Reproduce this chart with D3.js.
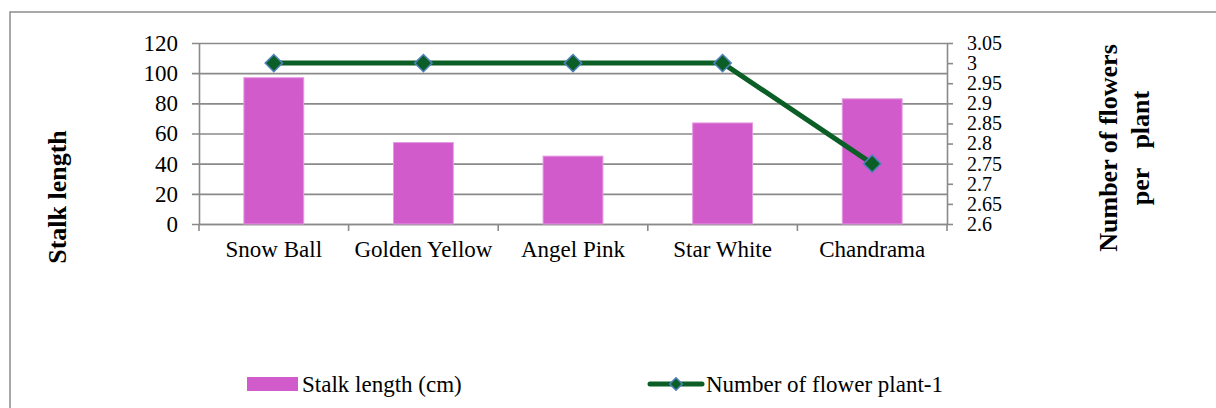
<!DOCTYPE html>
<html>
<head>
<meta charset="utf-8">
<script src="https://cdn.jsdelivr.net/npm/d3@7"></script>
<style>
  html, body { margin: 0; padding: 0; background: #fff; }
  svg { display: block; }
  svg text { font-family: "Liberation Serif", "Times New Roman", Times, "Nimbus Roman", "DejaVu Serif", serif !important; }
</style>
</head>
<body>
<svg id="chart" width="1216" height="408"></svg>
<script>
// Varieties and measured traits
const categories = ["Snow Ball", "Golden Yellow", "Angel Pink", "Star White", "Chandrama"];
const stalkLength = [97, 54, 45, 67, 83];
const flowersPerPlant = [3, 3, 3, 3, 2.75];
const leftTicks = [0, 20, 40, 60, 80, 100, 120];
const rightTicks = [2.6, 2.65, 2.7, 2.75, 2.8, 2.85, 2.9, 2.95, 3, 3.05];

const svg = d3.select("#chart");
const plot = { left: 199, right: 947, top: 43, bottom: 224 };
const gridColor = "#8a8a8a";
const barColor = "#d15bcb";
const lineColor = "#0b5f26";
const markerStroke = "#4f81bd";
const fs = 23;

// Outer chart frame
svg.append("rect")
  .attr("x", 10).attr("y", 12)
  .attr("width", 1230).attr("height", 420)
  .attr("fill", "none").attr("stroke", "#8c8c8c").attr("stroke-width", 1.5);

const x = d3.scaleBand().domain(categories).range([plot.left, plot.right]).paddingInner(0).paddingOuter(0);
const yL = d3.scaleLinear().domain([0, 120]).range([plot.bottom, plot.top]);
const yR = d3.scaleLinear().domain([2.6, 3.05]).range([plot.bottom, plot.top]);

// Left axis with gridlines across the plot
const leftAxis = d3.axisLeft(yL).tickValues(leftTicks).tickSizeInner(-(plot.right - plot.left)).tickSizeOuter(0).tickPadding(14);
const gL = svg.append("g").attr("transform", `translate(${plot.left},0)`).call(leftAxis);
gL.selectAll(".tick line").attr("stroke", gridColor).attr("stroke-width", 1.6).attr("x1", -7);
gL.select(".domain").attr("stroke", gridColor).attr("stroke-width", 1.6);
gL.selectAll(".tick text").attr("font-size", fs).attr("fill", "#000").attr("x", -21);

// Right axis (ticks are packed tightly, so the labels run a little smaller)
const rightAxis = d3.axisRight(yR).tickValues(rightTicks).tickSizeInner(6).tickSizeOuter(0).tickPadding(14)
  .tickFormat(d3.format("~g"));
const gR = svg.append("g").attr("transform", `translate(${plot.right},0)`).call(rightAxis);
gR.selectAll(".tick line").attr("stroke", gridColor).attr("stroke-width", 1.6);
gR.select(".domain").attr("stroke", gridColor).attr("stroke-width", 1.6);
gR.selectAll(".tick text").attr("font-size", 20).attr("fill", "#000").attr("x", 20);

// Bottom category axis
const bottomAxis = d3.axisBottom(x).tickSize(0).tickPadding(17);
const gB = svg.append("g").attr("transform", `translate(0,${plot.bottom})`).call(bottomAxis);
gB.select(".domain").attr("stroke", gridColor).attr("stroke-width", 1.6);
gB.selectAll(".tick text").attr("font-size", fs).attr("fill", "#000");
// Tick marks between categories
const bounds = categories.map(c => x(c)).concat([plot.right]);
gB.selectAll(".sep").data(bounds).enter().append("line")
  .attr("x1", d => d).attr("x2", d => d).attr("y1", 0).attr("y2", 7)
  .attr("stroke", gridColor).attr("stroke-width", 1.6);

// Bars
const barW = x.bandwidth() * 0.4;
svg.append("g").selectAll("rect").data(categories).enter().append("rect")
  .attr("x", d => x(d) + (x.bandwidth() - barW) / 2)
  .attr("y", (d, i) => yL(stalkLength[i]))
  .attr("width", barW)
  .attr("height", (d, i) => yL(0) - yL(stalkLength[i]))
  .attr("fill", barColor)
  .attr("stroke", "#e59ae0").attr("stroke-width", 1);

// Line series on right axis
const pts = categories.map((c, i) => [x(c) + x.bandwidth() / 2, yR(flowersPerPlant[i])]);
svg.append("path").datum(pts)
  .attr("d", d3.line())
  .attr("fill", "none").attr("stroke", lineColor).attr("stroke-width", 5).attr("stroke-linejoin", "round");
const diamond = d3.symbol().type(d3.symbolDiamond2).size(190);
svg.append("g").selectAll("path").data(pts).enter().append("path")
  .attr("d", diamond)
  .attr("transform", d => `translate(${d[0]},${d[1]})`)
  .attr("fill", lineColor).attr("stroke", markerStroke).attr("stroke-width", 1.5);

// Axis titles
svg.append("text")
  .attr("transform", "translate(66,197) rotate(-90)")
  .attr("text-anchor", "middle").attr("font-size", 26).attr("font-weight", "bold")
  .text("Stalk length");
const rt = svg.append("text")
  .attr("transform", "translate(1108,148) rotate(-90)")
  .attr("text-anchor", "middle").attr("font-size", 26).attr("font-weight", "bold");
rt.append("tspan").attr("x", 0).attr("y", 9).text("Number of flowers");
rt.append("tspan").attr("x", 0).attr("y", 41).style("white-space", "pre").text("per   plant");

// Legend
const lg = svg.append("g");
lg.append("rect").attr("x", 247).attr("y", 377).attr("width", 51).attr("height", 14).attr("fill", barColor);
lg.append("text").attr("x", 302).attr("y", 392).attr("font-size", fs).text("Stalk length (cm)");
lg.append("line").attr("x1", 650).attr("x2", 702).attr("y1", 384).attr("y2", 384)
  .attr("stroke", lineColor).attr("stroke-width", 5).attr("stroke-linecap", "round");
lg.append("path").attr("d", d3.symbol().type(d3.symbolDiamond2).size(100))
  .attr("transform", "translate(676,384)")
  .attr("fill", lineColor).attr("stroke", markerStroke).attr("stroke-width", 1.5);
lg.append("text").attr("x", 706).attr("y", 392).attr("font-size", fs).text("Number of flower plant-1");
</script>
</body>
</html>
